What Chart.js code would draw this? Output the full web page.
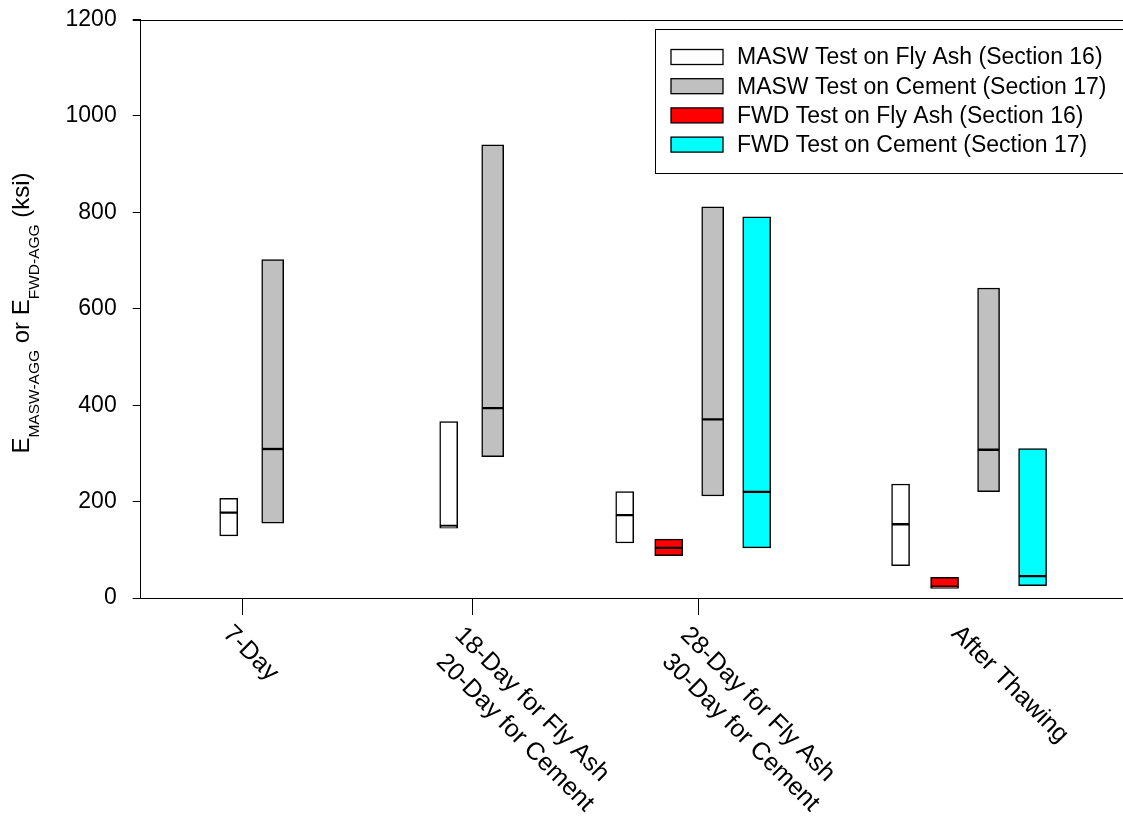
<!DOCTYPE html>
<html>
<head>
<meta charset="utf-8">
<script src="https://cdn.jsdelivr.net/npm/chart.js@4.4.1/dist/chart.umd.min.js"></script>
<style>
html,body{margin:0;padding:0;background:#fff;}
#wrap{width:1123px;height:816px;position:relative;}
</style>
</head>
<body>
<div id="wrap"><canvas id="c"></canvas></div>
<script>
// ---------- DATA ----------
const categories = [
  ['7-Day'],
  ['18-Day for Fly Ash', '20-Day for Cement'],
  ['28-Day for Fly Ash', '30-Day for Cement'],
  ['After Thawing']
];
// x-axis values (slot units) where each category label sits; ticks only for the first three
const labelPos = [2.32, 7.55, 12.68, 18.87];
const tickedLabels = 3;

const seriesNames = [
  'MASW Test on Fly Ash (Section 16)',
  'MASW Test on Cement (Section 17)',
  'FWD Test on Fly Ash (Section 16)',
  'FWD Test on Cement (Section 17)'
];

// MASW Test on Fly Ash (Section 16)
const maswFlyX   = [2, 7, 11, 17.27];
const maswFlyMin = [129, 145, 114, 67];
const maswFlyMed = [177, 149.5, 172, 153];
const maswFlyMax = [207, 366, 220.5, 236.5];

// MASW Test on Cement (Section 17)
const maswCemX   = [3, 8, 13, 19.27];
const maswCemMin = [155, 293, 211.5, 220.5];
const maswCemMed = [309, 394, 370.5, 307.5];
const maswCemMax = [702, 940, 811.5, 643];

// FWD Test on Fly Ash (Section 16)
const fwdFlyX   = [12, 18.27];
const fwdFlyMin = [88, 20];
const fwdFlyMed = [104, 23.5];
const fwdFlyMax = [122, 43];

// FWD Test on Cement (Section 17)
const fwdCemX   = [14, 20.27];
const fwdCemMin = [104, 25.5];
const fwdCemMed = [220, 45.5];
const fwdCemMax = [790.5, 310];

const yTicks = [0, 200, 400, 600, 800, 1000, 1200];

// ---------- BUILD ----------
function boxes(xs, mins, meds, maxs) {
  const out = [];
  xs.forEach((x, i) => {
    out.push({x: x, y: [mins[i], meds[i]]});
    out.push({x: x, y: [meds[i], maxs[i]]});
  });
  return out;
}

const FONT = '"Liberation Sans", Arial, Helvetica, sans-serif';
Chart.defaults.font.family = FONT;
Chart.defaults.color = '#000';

function ds(label, data, fill, thick) {
  return {
    label: label,
    data: data,
    backgroundColor: fill,
    borderColor: '#000',
    borderWidth: 1.5,
    borderSkipped: false,
    barThickness: thick,
    grouped: false
  };
}

const decor = {
  id: 'decor',
  afterDraw(chart) {
    const ctx = chart.ctx, ca = chart.chartArea, xs = chart.scales.x;
    ctx.save();
    // top frame line
    ctx.strokeStyle = '#000';
    ctx.lineWidth = 1;
    const ty = Math.round(ca.top) + 0.5;
    ctx.beginPath(); ctx.moveTo(ca.left - 8, ty); ctx.lineTo(chart.width, ty); ctx.stroke();

    // rotated category labels
    ctx.font = '25px ' + FONT;
    ctx.fillStyle = '#000';
    ctx.textBaseline = 'top';
    ctx.textAlign = 'left';
    categories.forEach((lines, i) => {
      const px = xs.getPixelForValue(labelPos[i]);
      const widths = lines.map(l => ctx.measureText(l).width);
      const maxW = Math.max.apply(null, widths);
      ctx.save();
      ctx.translate(px - 7, ca.bottom + 23);
      ctx.rotate(Math.PI / 4);
      lines.forEach((l, j) => ctx.fillText(l, (maxW - widths[j]) / 2 + j * 8, j * 32));
      ctx.restore();
    });

    // y-axis title with subscripts
    const parts = [
      ['E', 24, 0], ['MASW-AGG', 15.5, 10.5], [' or E', 24, 0], ['FWD-AGG', 15.5, 10.5], [' (ksi)', 24, 0]
    ];
    let total = 0;
    const w = parts.map(p => { ctx.font = p[1] + 'px ' + FONT; const m = ctx.measureText(p[0]).width; total += m; return m; });
    ctx.save();
    ctx.translate(28.5, 313);
    ctx.rotate(-Math.PI / 2);
    ctx.textBaseline = 'alphabetic';
    let x0 = -total / 2;
    parts.forEach((p, i) => {
      ctx.font = p[1] + 'px ' + FONT;
      ctx.fillText(p[0], x0, p[2]);
      x0 += w[i];
    });
    ctx.restore();

    // legend box
    const lx = 655.5, ly = 29.5;
    ctx.lineWidth = 1;
    ctx.strokeStyle = '#000';
    ctx.strokeRect(lx, ly, 600, 144);
    ctx.font = '23px ' + FONT;
    ctx.textBaseline = 'middle';
    chart.data.datasets.forEach((d, i) => {
      const cy = 57 + i * 29.2;
      ctx.fillStyle = d.backgroundColor;
      ctx.fillRect(671, cy - 7.5, 52, 15);
      ctx.strokeStyle = '#000';
      ctx.lineWidth = 1.3;
      ctx.strokeRect(671, cy - 7.5, 52, 15);
      ctx.fillStyle = '#000';
      ctx.fillText(d.label, 737, cy + 1);
    });
    ctx.restore();
  }
};

new Chart(document.getElementById('c'), {
  type: 'bar',
  data: {
    datasets: [
      ds(seriesNames[0], boxes(maswFlyX, maswFlyMin, maswFlyMed, maswFlyMax), '#ffffff', 18),
      ds(seriesNames[1], boxes(maswCemX, maswCemMin, maswCemMed, maswCemMax), '#c0c0c0', 22),
      ds(seriesNames[2], boxes(fwdFlyX, fwdFlyMin, fwdFlyMed, fwdFlyMax), '#ff0000', 28),
      ds(seriesNames[3], boxes(fwdCemX, fwdCemMin, fwdCemMed, fwdCemMax), '#00ffff', 28)
    ]
  },
  options: {
    responsive: true,
    maintainAspectRatio: false,
    animation: false,
    layout: { padding: { left: 0, top: 19.5, right: 0, bottom: 0 } },
    plugins: { legend: { display: false }, tooltip: { enabled: false } },
    scales: {
      x: {
        type: 'linear',
        min: 0,
        max: 22.325,
        offset: false,
        afterBuildTicks: s => { s.ticks = labelPos.slice(0, tickedLabels).map(v => ({value: v})); },
        afterFit: s => { s.height = 218; s.paddingLeft = 0; s.paddingRight = 0; },
        ticks: { display: false },
        grid: { offset: false, drawOnChartArea: false, drawTicks: true, tickLength: 17, tickColor: '#000', tickWidth: 1 },
        border: { display: true, color: '#000', width: 1 }
      },
      y: {
        min: 0,
        max: 1200,
        afterBuildTicks: s => { s.ticks = yTicks.map(v => ({value: v})); },
        afterFit: s => { s.width = 140.7; s.paddingTop = 0; s.paddingBottom = 0; },
        ticks: { font: { size: 23 }, color: '#000', padding: 16, callback: v => String(v) },
        grid: { drawOnChartArea: false, drawTicks: true, tickLength: 8, tickColor: '#000', tickWidth: 1 },
        border: { display: true, color: '#000', width: 1 }
      }
    }
  },
  plugins: [decor]
});
</script>
</body>
</html>
